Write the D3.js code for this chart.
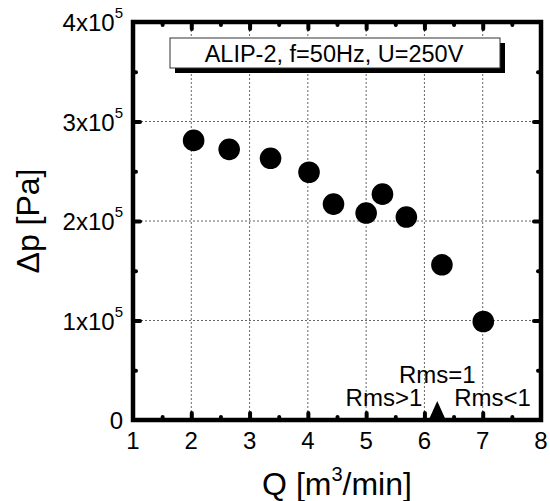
<html>
<head>
<meta charset="utf-8">
<script src="https://cdn.jsdelivr.net/npm/d3@7"></script>
<style>
  body { margin: 0; background: white; }
  text { font-family: "Liberation Sans", Arial, sans-serif; fill: black; }
</style>
</head>
<body>
<svg id="chart" width="550" height="501"></svg>
<script>
// data
const flowQ = [2.04, 2.65, 3.36, 4.02, 4.44, 5.0, 5.28, 5.69, 6.30, 7.01];
const deltaP = [2.81e5, 2.72e5, 2.63e5, 2.49e5, 2.17e5, 2.08e5, 2.27e5, 2.04e5, 1.56e5, 0.99e5];
const xTicks = [1, 2, 3, 4, 5, 6, 7, 8];
const yTicks = [0, 1e5, 2e5, 3e5, 4e5];
const yTickLabels = ["0", "1x10", "2x10", "3x10", "4x10"];
const rmsQ = 6.22;  // Rms=1 marker
const legendText = "ALIP-2, f=50Hz, U=250V";

const svg = d3.select("#chart");
const pLeft = 133, pRight = 541, pTop = 22, pBottom = 420;

const x = d3.scaleLinear().domain([1, 8]).range([pLeft, pRight]);
const y = d3.scaleLinear().domain([0, 4e5]).range([pBottom, pTop]);

// grid
const grid = svg.append("g").attr("stroke", "#666").attr("stroke-width", 1).attr("stroke-dasharray", "2,2");
grid.selectAll(".gx").data(xTicks.slice(1, -1)).enter().append("line")
    .attr("x1", d => x(d)).attr("x2", d => x(d)).attr("y1", pTop).attr("y2", pBottom);
grid.selectAll(".gy").data(yTicks.slice(1, -1)).enter().append("line")
    .attr("y1", d => y(d)).attr("y2", d => y(d)).attr("x1", pLeft).attr("x2", pRight);

// ticks on all four sides, pointing in
const xMinor = d3.range(1.5, 8, 1);
const yMinor = d3.range(0.5e5, 4e5, 1e5);
function ticks(axis, vals, len, pos) {
    const g = svg.append("g").attr("transform", pos).call(axis.tickValues(vals).tickSize(-len).tickFormat(""));
    g.select(".domain").remove();
    g.selectAll(".tick line").attr("stroke", "black").attr("stroke-width", 4).attr("stroke-linecap", "round");
}
ticks(d3.axisBottom(x), xTicks.slice(1, -1), 7, `translate(0,${pBottom})`);
ticks(d3.axisBottom(x), xMinor, 3, `translate(0,${pBottom})`);
ticks(d3.axisTop(x), xTicks.slice(1, -1), 7, `translate(0,${pTop})`);
ticks(d3.axisTop(x), xMinor, 3, `translate(0,${pTop})`);
ticks(d3.axisLeft(y), yTicks.slice(1, -1), 7, `translate(${pLeft},0)`);
ticks(d3.axisLeft(y), yMinor, 3, `translate(${pLeft},0)`);
ticks(d3.axisRight(y), yTicks.slice(1, -1), 7, `translate(${pRight},0)`);
ticks(d3.axisRight(y), yMinor, 3, `translate(${pRight},0)`);

// frame
svg.append("rect").attr("x", pLeft).attr("y", pTop).attr("width", pRight - pLeft).attr("height", pBottom - pTop)
    .attr("fill", "none").attr("stroke", "black").attr("stroke-width", 4.5);

// tick labels
svg.selectAll(".xl").data(xTicks).enter().append("text")
    .attr("x", d => x(d)).attr("y", 449).attr("text-anchor", "middle")
    .attr("font-size", 24).text(d => d);

const yl = svg.selectAll(".yl").data(yTicks).enter().append("text")
    .attr("x", 123).attr("y", d => y(d) + 9).attr("text-anchor", "end").attr("font-size", 24);
yl.append("tspan").text((d, i) => yTickLabels[i]);
yl.filter(d => d > 0).append("tspan").attr("font-size", 15).attr("dy", -13).text("5");

// axis titles
const xt = svg.append("text").attr("x", (pLeft + pRight) / 2).attr("y", 495)
    .attr("text-anchor", "middle").attr("font-size", 32);
xt.append("tspan").text("Q [m");
xt.append("tspan").attr("font-size", 20).attr("dy", -14).text("3");
xt.append("tspan").attr("dy", 14).text("/min]");

svg.append("text").attr("transform", `translate(39,${(pTop + pBottom) / 2}) rotate(-90)`)
    .attr("text-anchor", "middle").attr("font-size", 32).text("\u0394p [Pa]");

// legend box with shadow
svg.append("rect").attr("x", 175).attr("y", 43).attr("width", 330).attr("height", 30).attr("fill", "black");
svg.append("rect").attr("x", 170).attr("y", 38).attr("width", 330).attr("height", 30)
    .attr("fill", "white").attr("stroke", "#333").attr("stroke-width", 1);
svg.append("text").attr("x", 334).attr("y", 61.5).attr("text-anchor", "middle")
    .attr("font-size", 23.5).text(legendText);

// points
svg.selectAll(".pt").data(flowQ).enter().append("circle")
    .attr("cx", d => x(d)).attr("cy", (d, i) => y(deltaP[i])).attr("r", 10.8).attr("fill", "black");

// Rms marker
const mx = x(rmsQ);
svg.append("path").attr("d", `M${mx - 9},${pBottom + 1} L${mx},${pBottom - 19} L${mx + 9},${pBottom + 1} Z`).attr("fill", "black");
svg.append("text").attr("x", mx).attr("y", 383).attr("text-anchor", "middle").attr("font-size", 24).text("Rms=1");
svg.append("text").attr("x", mx - 15).attr("y", 406).attr("text-anchor", "end").attr("font-size", 24).text("Rms>1");
svg.append("text").attr("x", mx + 17).attr("y", 406).attr("text-anchor", "start").attr("font-size", 24).text("Rms<1");
</script>
</body>
</html>
